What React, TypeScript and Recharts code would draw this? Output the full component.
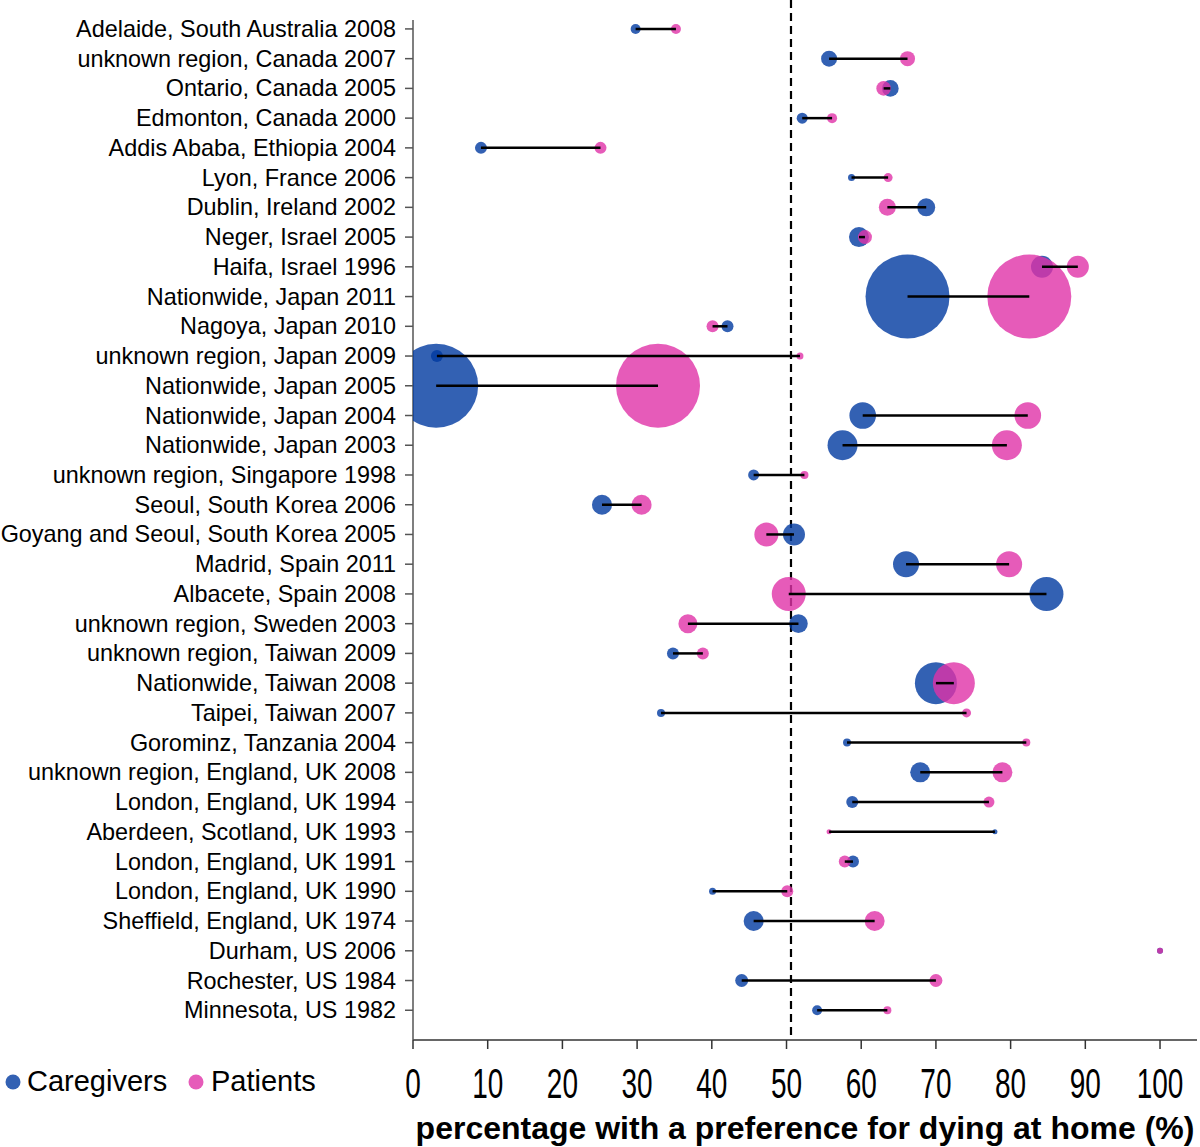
import React from "react";
import {
  ScatterChart,
  Scatter,
  XAxis,
  YAxis,
  ReferenceLine,
  Label,
} from "recharts";

const regions = [
  "Adelaide, South Australia 2008",
  "unknown region, Canada 2007",
  "Ontario, Canada 2005",
  "Edmonton, Canada 2000",
  "Addis Ababa, Ethiopia 2004",
  "Lyon, France 2006",
  "Dublin, Ireland 2002",
  "Neger, Israel 2005",
  "Haifa, Israel 1996",
  "Nationwide, Japan 2011",
  "Nagoya, Japan 2010",
  "unknown region, Japan 2009",
  "Nationwide, Japan 2005",
  "Nationwide, Japan 2004",
  "Nationwide, Japan 2003",
  "unknown region, Singapore 1998",
  "Seoul, South Korea 2006",
  "Goyang and Seoul, South Korea 2005",
  "Madrid, Spain 2011",
  "Albacete, Spain 2008",
  "unknown region, Sweden 2003",
  "unknown region, Taiwan 2009",
  "Nationwide, Taiwan 2008",
  "Taipei, Taiwan 2007",
  "Gorominz, Tanzania 2004",
  "unknown region, England, UK 2008",
  "London, England, UK 1994",
  "Aberdeen, Scotland, UK 1993",
  "London, England, UK 1991",
  "London, England, UK 1990",
  "Sheffield, England, UK 1974",
  "Durham, US 2006",
  "Rochester, US 1984",
  "Minnesota, US 1982",
];

const caregivers = [
  29.8, 55.7, 63.9, 52.1, 9.1, 58.7, 68.7, 59.7, 84.2, 66.2, 42.1, 3.2, 3.1,
  60.2, 57.5, 45.6, 25.3, 51.0, 66.0, 84.8, 51.6, 34.8, 70.0, 33.2, 58.1, 67.9,
  58.8, 77.9, 58.9, 40.1, 45.6, 100, 44.0, 54.1,
];

const patients = [
  35.2, 66.2, 63.0, 56.1, 25.1, 63.6, 63.5, 60.5, 89.0, 82.5, 40.1, 51.8, 32.8,
  82.3, 79.5, 52.4, 30.6, 47.3, 79.8, 50.3, 36.8, 38.8, 72.4, 74.1, 82.1, 78.9,
  77.1, 55.7, 57.8, 50.1, 61.8, 100, 70.0, 63.5,
];

// relative study sizes (bubble area)
const caregiverN = [
  100, 256, 276, 121, 144, 49, 324, 400, 484, 7056, 144, 144, 7056, 708, 900,
  121, 400, 484, 676, 1156, 346, 144, 1764, 64, 64, 400, 144, 25, 144, 49, 400,
  36, 169, 100,
];

const patientN = [
  100, 225, 213, 100, 144, 81, 289, 196, 484, 7056, 144, 49, 7056, 708, 900, 64,
  400, 576, 676, 1156, 361, 144, 1764, 81, 64, 400, 121, 25, 144, 144, 400, 36,
  169, 64,
];

const xTicks = [0, 10, 20, 30, 40, 50, 60, 70, 80, 90, 100];
const medianLine = 50.6;

const BLUE = "#003AA0";
const PINK = "#E032A8";
const FONT = "'Liberation Sans', Arial, Helvetica, sans-serif";

const rowIdx = regions.map((_, i) => i + 1);
const caregiverData = regions.map((r, i) => ({
  name: r,
  x: caregivers[i],
  y: i + 1,
  n: caregiverN[i],
}));
const patientData = regions.map((r, i) => ({
  name: r,
  x: patients[i],
  y: i + 1,
  n: patientN[i],
}));
const segmentData = regions.map((r, i) => [
  { x: caregivers[i], y: i + 1 },
  { x: patients[i], y: i + 1 },
]);

const bubble = (color: string, opacity: number) => (props: any) => {
  const { cx, cy, payload } = props;
  if (cx == null || cy == null) return <g />;
  return (
    <circle
      cx={cx}
      cy={cy}
      r={Math.sqrt(payload.n) / 2}
      fill={color}
      fillOpacity={opacity}
    />
  );
};

const noShape = () => <g />;

const XTick = (props: any) => {
  const { x, y, payload } = props;
  return (
    <g transform={`translate(${x},${y}) scale(1,1.5)`}>
      <text
        x={0}
        y={0}
        dy={20}
        textAnchor="middle"
        fontSize={28}
        fontFamily={FONT}
        fill="#000"
      >
        {payload.value}
      </text>
    </g>
  );
};

const YTick = (props: any) => {
  const { x, y, payload } = props;
  return (
    <text
      x={x}
      y={y}
      dy={8}
      textAnchor="end"
      fontSize={23.4}
      fontFamily={FONT}
      fill="#000"
    >
      {regions[payload.value - 1]}
    </text>
  );
};

export default function App() {
  return (
    <div
      style={{
        position: "absolute",
        left: 0,
        top: 0,
        width: 1200,
        height: 1147,
        background: "#fff",
      }}
    >
      <ScatterChart
        width={1200}
        height={1147}
        margin={{ top: 20, right: 3, bottom: 0, left: 0 }}
      >
        <XAxis
          type="number"
          dataKey="x"
          domain={[0, 104.95]}
          ticks={xTicks}
          allowDataOverflow
          height={107}
          tickSize={9}
          tickMargin={19}
          tick={<XTick />}
          axisLine={{ stroke: "#333", strokeWidth: 1.5 }}
          tickLine={{ stroke: "#333", strokeWidth: 1.5 }}
        >
          <Label
            value="percentage with a preference for dying at home (%)"
            position="insideBottom"
            offset={8}
            style={{
              fontFamily: FONT,
              fontSize: 32,
              fontWeight: "bold",
              fill: "#000",
            }}
          />
        </XAxis>
        <YAxis
          type="number"
          dataKey="y"
          domain={[0.7, 35]}
          reversed
          ticks={rowIdx}
          interval={0}
          allowDataOverflow
          width={413}
          tickSize={8}
          tickMargin={9}
          tick={<YTick />}
          axisLine={{ stroke: "#555", strokeWidth: 1.5 }}
          tickLine={{ stroke: "#555", strokeWidth: 1.5 }}
        />
        <ReferenceLine
          segment={[
            { x: medianLine, y: 0.03 },
            { x: medianLine, y: 35 },
          ]}
          ifOverflow="visible"
          stroke="#000"
          strokeWidth={2.2}
          strokeDasharray="8 5"
        />
        <Scatter
          name="Caregivers"
          data={caregiverData}
          shape={bubble(BLUE, 0.8)}
          isAnimationActive={false}
        />
        <Scatter
          name="Patients"
          data={patientData}
          shape={bubble(PINK, 0.8)}
          isAnimationActive={false}
        />
        {segmentData.map((seg, i) => (
          <Scatter
            key={regions[i]}
            data={seg}
            line={{ stroke: "#000", strokeWidth: 2.5 }}
            shape={noShape}
            legendType="none"
            isAnimationActive={false}
          />
        ))}
      </ScatterChart>
      <svg
        width={340}
        height={40}
        style={{ position: "absolute", left: 0, top: 1062 }}
      >
        <circle cx={13} cy={20} r={7.5} fill={BLUE} fillOpacity={0.8} />
        <text x={27} y={29} fontSize={29} fontFamily={FONT} fill="#000">
          Caregivers
        </text>
        <circle cx={196} cy={20} r={7.5} fill={PINK} fillOpacity={0.8} />
        <text x={211} y={29} fontSize={29} fontFamily={FONT} fill="#000">
          Patients
        </text>
      </svg>
    </div>
  );
}
